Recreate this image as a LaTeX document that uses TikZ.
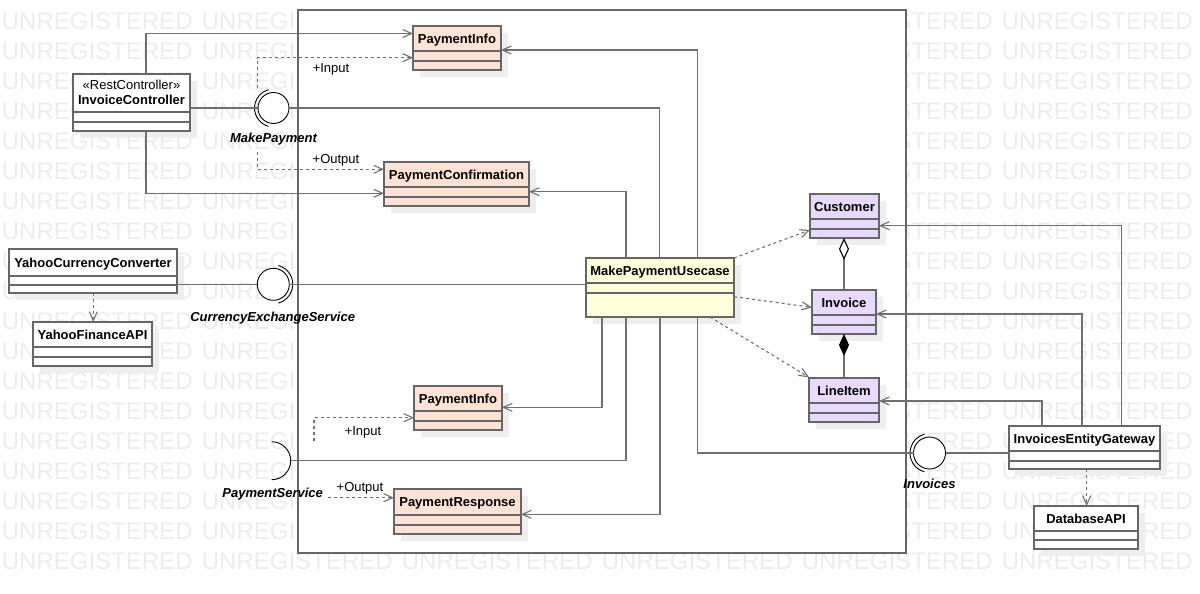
\documentclass[tikz,border=0pt]{standalone}
\usepackage{fontspec}
\setmainfont{Liberation Sans}
\usetikzlibrary{arrows.meta}
\definecolor{salmon}{HTML}{FFE2D6}
\definecolor{lav}{HTML}{E8D9FF}
\definecolor{ylw}{HTML}{FFFFDC}
\definecolor{lnc}{HTML}{707070}
\definecolor{boxc}{HTML}{666666}
\definecolor{wmc}{HTML}{ECECEC}
\definecolor{shc}{HTML}{EEEEEE}
\tikzset{
  classbox/.style={draw=boxc, line width=1.4pt, rectangle, inner sep=0pt, outer sep=0pt},
  divider/.style={draw=boxc, line width=1.4pt},
  cname/.style={font=\fontsize{13}{15}\selectfont\bfseries, inner sep=0pt, anchor=base},
  conn/.style={draw=lnc, line width=1.1pt},
  oarrow/.style={conn, -{Straight Barb[length=9pt,width=8pt]}},
  dep/.style={conn, dash pattern=on 3pt off 3pt, -{Straight Barb[length=9pt,width=8pt]}},
  lbl/.style={font=\fontsize{13}{15}\selectfont, inner sep=0pt, anchor=base},
  ilbl/.style={font=\fontsize{13}{15}\selectfont\bfseries\itshape, inner sep=0pt, anchor=base},
  ball/.style={circle, draw=black, line width=0.9pt, fill=white, inner sep=0pt, outer sep=0pt, minimum size=31pt},
  socket/.style={draw=black, line width=0.9pt},
  wm/.style={font=\fontsize{24}{24}\selectfont, text=wmc, inner sep=0pt, anchor=base west},
  pkgbox/.style={draw=boxc, line width=1.4pt, fill=white, rectangle, inner sep=0pt, outer sep=0pt},
}
% #1 name, #2 x1, #3 y1, #4 x2, #5 y2, #6 div1, #7 div2, #8 fill, #9 title
\newcommand{\umlclass}[9]{%
  \fill[shc] ({#2+7},{#3+7}) rectangle ({#4+7},{#5+7});
  \node[classbox, fill=#8, anchor=north west, minimum width={#4-#2}, minimum height={#5-#3}] (#1) at (#2,#3) {};
  \draw[divider] (#2,#6) -- (#4,#6) (#2,#7) -- (#4,#7);
  \node[cname] (#1-n) at ({(#2+#4)/2},{(#3+#6)/2+4.6}) {#9};
}
\begin{document}
\begin{tikzpicture}[x=1pt,y=-1pt]
\useasboundingbox (0,0) rectangle (1200,594);
% watermark
\foreach \r in {0,...,18}{
  \foreach \c in {0,...,5}{
    \node[wm] at ({1.7+200*\c},{29.6+30*\r}) {UNREGISTERED};
  }
}
% package frame
\node[pkgbox, anchor=north west, minimum width=608, minimum height=543] (pkg) at (298,10) {};

% classes
\umlclass{ic}{73}{74}{190}{131}{112}{122}{white}{}
\node[lbl] (ic-s) at (131.5,89.6) {«RestController»};
\node[cname] (ic-t) at (131.5,104) {InvoiceController};
\umlclass{pi1}{413}{26}{501}{70}{51}{61}{salmon}{PaymentInfo}
\umlclass{pc}{384}{162}{529}{206}{187}{197}{salmon}{PaymentConfirmation}
\umlclass{ycc}{9}{249}{177}{293}{276}{285}{white}{YahooCurrencyConverter}
\umlclass{yfa}{33}{322}{152}{366}{347}{357}{white}{YahooFinanceAPI}
\umlclass{uc}{586}{258}{734}{317}{283}{293}{ylw}{MakePaymentUsecase}
\umlclass{cu}{810}{194}{879}{238}{219}{229}{lav}{Customer}
\umlclass{inv}{812}{290}{876}{334}{315}{325}{lav}{Invoice}
\umlclass{li}{809}{378}{879}{422}{403}{413}{lav}{LineItem}
\umlclass{pi2}{414}{386}{502}{430}{411}{421}{salmon}{PaymentInfo}
\umlclass{pr}{394}{489}{521}{534}{515}{525}{salmon}{PaymentResponse}
\umlclass{ieg}{1009}{426}{1160}{469}{451}{461}{white}{InvoicesEntityGateway}
\umlclass{db}{1034}{506}{1138}{549}{531}{540}{white}{DatabaseAPI}

% interfaces
\node[ball] (mp) at (273.5,108) {};
\draw[socket] ([shift={(105:19)}]mp.center) arc[start angle=105, end angle=255, radius=19];
\node[ilbl] (mp-l) at (273.5,142.6) {MakePayment};

\node[ball, minimum size=32pt] (ces) at (273.3,284.3) {};
\draw[socket] ([shift={(-75:19.5)}]ces.center) arc[start angle=-75, end angle=75, radius=19.5];
\node[ilbl] (ces-l) at (272.7,321.9) {CurrencyExchangeService};

\coordinate (ps) at (271.7,460.7);
\coordinate (psr) at (290.7,460.7);
\draw[socket] ([shift={(-90:19)}]ps) arc[start angle=-90, end angle=90, radius=19];
\node[ilbl] (ps-l) at (272.7,497.3) {PaymentService};

\node[ball, minimum size=32pt] (invs) at (929.5,453) {};
\draw[socket] ([shift={(105:19.5)}]invs.center) arc[start angle=105, end angle=255, radius=19.5];
\node[ilbl] (invs-l) at (929.5,488.6) {Invoices};

% labels on dashed connectors
\node[lbl] (in1-l) at (331,72.3) {+Input};
\node[lbl] (out1-l) at (336,163.9) {+Output};
\node[lbl] (in2-l) at (363,435.6) {+Input};
\node[lbl] (out2-l) at (360,491.3) {+Output};

% connectors
\draw[oarrow] (146,0 |- ic.north) |- (pi1.west |- 0,33.5);
\draw[oarrow] (146,0 |- ic.south) |- (pc.west |- 0,193.3);
\draw[conn] (mp.west -| ic.east) -- (mp.west);
\draw[conn] (mp.east) -| (659.5,0 |- uc.north);
\coordinate (in1) at (257.3,88);
\draw[dep] (in1) |- (pi1.west |- 0,57.7);
\coordinate (out1) at (257.3,151.7);
\draw[dep] (out1) |- (pc.west |- 0,169.3);
\draw[oarrow] (697.7,0 |- uc.north) |- (pi1.east |- 0,50);
\draw[oarrow] (626,0 |- uc.north) |- (pc.east |- 0,191.7);

\draw[conn] (ces.west -| ycc.east) -- (ces.west);
\draw[conn] (ces.east) -- (ces.east -| uc.west);
\draw[dep] (93.3,0 |- ycc.south) -- (93.3,0 |- yfa.north);

\draw[oarrow] (602,0 |- uc.south) |- (pi2.east |- 0,407.3);
\draw[conn] (626,0 |- uc.south) |- (psr);
\draw[oarrow] (660,0 |- uc.south) |- (pr.east |- 0,514.3);
\draw[conn] (697.7,0 |- uc.south) |- (invs.west);
\draw[conn] (invs.east) -- (invs.east -| ieg.west);
\coordinate (in2) at (314,441);
\draw[dep] (in2) |- (pi2.west |- 0,417.7);
\coordinate (out2) at (327.7,497.7);
\draw[dep] (out2) -- (pr.west |- out2);

\draw[dep] (uc.north east) -- (cu.west |- 0,230);
\draw[dep] (uc.east |- 0,296.7) -- (inv.west |- 0,307.3);
\draw[dep] (710,0 |- uc.south) -- (li.west |- 0,377.3);

\draw[conn, {Diamond[open,length=22pt,width=10pt,color=black]}-] (844,0 |- cu.south) -- (844,0 |- inv.north);
\draw[conn, {Diamond[length=22pt,width=10pt,color=black]}-] (844,0 |- inv.south) -- (844,0 |- li.north);

\draw[oarrow] (1121.7,0 |- ieg.north) |- (cu.east |- 0,225.7);
\draw[oarrow] (1082,0 |- ieg.north) |- (inv.east |- 0,314);
\draw[oarrow] (1042,0 |- ieg.north) |- (li.east |- 0,401);
\draw[dep] (1086.7,0 |- ieg.south) -- (1086.7,0 |- db.north);
\end{tikzpicture}
\end{document}
